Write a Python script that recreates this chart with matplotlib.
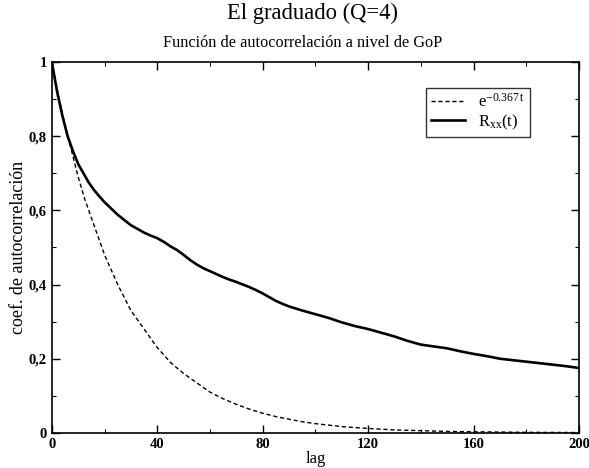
import matplotlib
matplotlib.use("Agg")
import matplotlib.pyplot as plt
from matplotlib.ticker import MultipleLocator, FuncFormatter

plt.rcParams['font.family'] = ['Liberation Serif', 'DejaVu Serif']
plt.rcParams['mathtext.fontset'] = 'custom'
plt.rcParams['mathtext.rm'] = 'Liberation Serif'
plt.rcParams['mathtext.it'] = 'Liberation Serif'

# Data
lag_exp = [0, 2.5, 5, 7.5, 10, 12.5, 15, 17.5, 20, 22.5, 25, 27.5, 30, 32.5,
           35, 37.5, 40, 42.5, 45, 47.5, 50, 55, 60, 65, 70, 75, 80, 85, 90,
           95, 100, 110, 120, 130, 140, 150, 160, 180, 200]
val_exp = [1.0, 0.91, 0.83, 0.76, 0.69, 0.63, 0.58, 0.53, 0.48, 0.44, 0.40,
           0.365, 0.33, 0.305, 0.28, 0.255, 0.23, 0.21, 0.19, 0.175, 0.16,
           0.135, 0.11, 0.092, 0.077, 0.064, 0.053, 0.044, 0.037, 0.030,
           0.025, 0.017, 0.012, 0.008, 0.006, 0.004, 0.003, 0.0015, 0.001]

lag_rxx = [0, 2, 4, 6, 8, 10, 12, 14, 16, 18, 20, 22.5, 25, 27.5, 30, 32.5,
           35, 37.5, 40, 42.5, 45, 47.5, 50, 52.5, 55, 57.5, 60, 62.5, 65,
           67.5, 70, 72.5, 75, 77.5, 80, 82.5, 85, 87.5, 90, 95, 100, 105,
           110, 115, 120, 125, 130, 135, 140, 145, 150, 155, 160, 165, 170,
           175, 180, 185, 190, 195, 200]
val_rxx = [1.0, 0.92, 0.855, 0.80, 0.76, 0.725, 0.70, 0.675, 0.655, 0.638,
           0.622, 0.605, 0.588, 0.574, 0.56, 0.55, 0.54, 0.532, 0.525, 0.515,
           0.503, 0.493, 0.48, 0.466, 0.454, 0.444, 0.436, 0.428, 0.42,
           0.413, 0.407, 0.40, 0.393, 0.385, 0.376, 0.366, 0.356, 0.348,
           0.341, 0.33, 0.32, 0.31, 0.298, 0.288, 0.28, 0.27, 0.26, 0.248,
           0.238, 0.233, 0.228, 0.22, 0.213, 0.207, 0.20, 0.196, 0.192,
           0.188, 0.184, 0.18, 0.175]

label_exp = r'$\mathrm{e}^{\mathrm{-0.367\,t}}$'
label_rxx = r'$\mathrm{R}_{\mathrm{xx}}\mathrm{(t)}$'

fig = plt.figure(figsize=(5.89, 4.68), dpi=100)
ax = fig.add_axes([0.088, 0.075, 0.895, 0.7925])

ax.plot(lag_exp, val_exp, color='black', lw=1.0, ls=(0, (3, 2)),
        label=label_exp)
ax.plot(lag_rxx, val_rxx, color='black', lw=1.9, solid_joinstyle='round',
        label=label_rxx)

ax.set_xlim(0, 200)
ax.set_ylim(0, 1)
ax.xaxis.set_major_locator(MultipleLocator(40))
ax.xaxis.set_minor_locator(MultipleLocator(20))
ax.yaxis.set_major_locator(MultipleLocator(0.2))
ax.yaxis.set_minor_locator(MultipleLocator(0.1))

def yfmt(v, pos):
    if abs(v) < 1e-9:
        return '0'
    if abs(v - 1) < 1e-9:
        return '1'
    return ('%.1f' % v).replace('.', ',')

ax.yaxis.set_major_formatter(FuncFormatter(yfmt))
ax.tick_params(which='both', direction='in', top=True, right=True)
ax.tick_params(which='major', length=6, width=1.0, labelsize=10.5)
ax.tick_params(which='minor', length=3, width=0.8)
for lbl in ax.get_xticklabels() + ax.get_yticklabels():
    lbl.set_fontweight('bold')
for s in ax.spines.values():
    s.set_linewidth(1.2)

ax.set_xlabel('lag', fontsize=12, labelpad=0)
ax.set_ylabel('coef. de autocorrelación', fontsize=13, labelpad=1)

fig.text(0.531, 0.972, 'El graduado (Q=4)', ha='center', va='center',
         fontsize=16.3)
fig.text(0.513, 0.908, 'Función de autocorrelación a nivel de GoP',
         ha='center', va='center', fontsize=11.7)

leg = ax.legend(loc='upper right', bbox_to_anchor=(0.907, 0.93), fontsize=12,
                frameon=True, fancybox=False, edgecolor='black',
                handlelength=2.0, handletextpad=0.8, borderpad=0.3,
                labelspacing=0.1, borderaxespad=0)
leg.get_frame().set_linewidth(1.0)

fig.savefig('out.png', dpi=100)
